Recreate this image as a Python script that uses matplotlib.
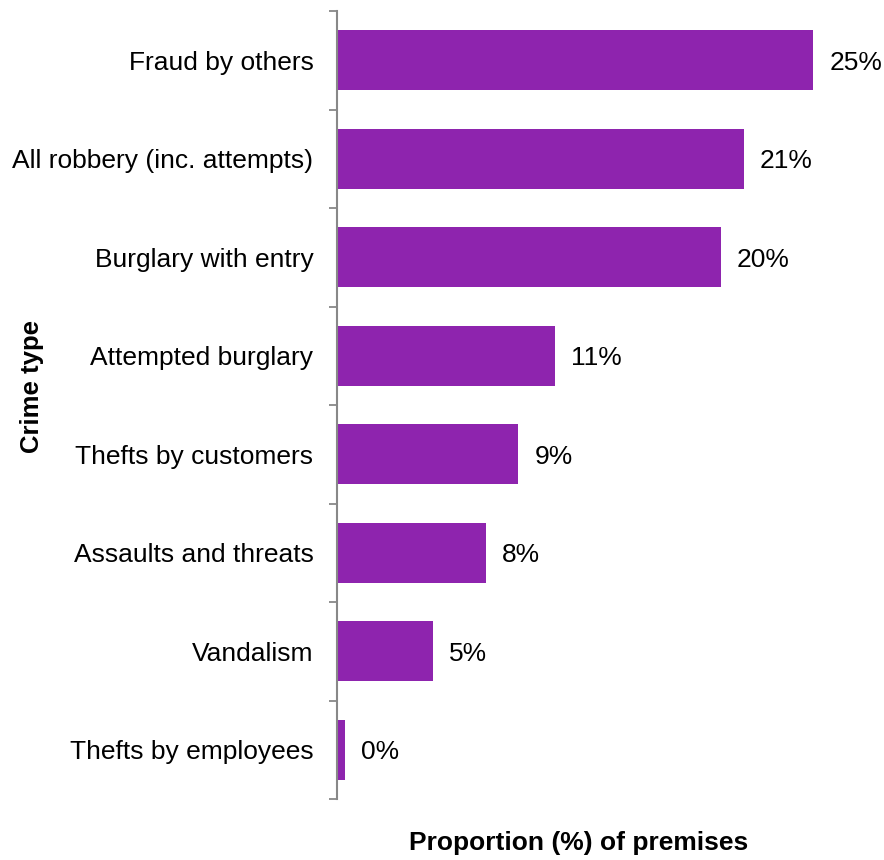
import numpy as np
import matplotlib
matplotlib.use("Agg")
import matplotlib.pyplot as plt

plt.rcParams['font.family'] = ['Liberation Sans', 'DejaVu Sans']

# Crime types and share of premises affected (%)
crime_types = [
    "Fraud by others",
    "All robbery (inc. attempts)",
    "Burglary with entry",
    "Attempted burglary",
    "Thefts by customers",
    "Assaults and threats",
    "Vandalism",
    "Thefts by employees",
]
proportions = [24.7, 21.1, 19.9, 11.3, 9.4, 7.7, 5.0, 0.4]

bar_color = "#8E24AE"

fig = plt.figure(figsize=(8.84, 8.60), dpi=100)
ax = fig.add_axes([337 / 884, 1 - 799 / 860, 540 / 884, 788 / 860])

y = np.arange(len(crime_types))
ax.barh(y, proportions, height=0.61, color=bar_color)

for yi, v in zip(y, proportions):
    ax.text(v + 0.83, yi, f"{v:.0f}%", va="center_baseline", ha="left", fontsize=19)

ax.set_xlim(0, 28)
ax.set_ylim(len(crime_types) - 0.5, -0.5)

ax.set_yticks(y)
ax.set_yticklabels(crime_types, fontsize=19)
ax.set_yticks(np.arange(-0.5, len(crime_types)), minor=True)
ax.tick_params(axis="y", which="major", length=0, pad=17)
ax.tick_params(axis="y", which="minor", length=5.5, width=1.3, color="#888888")
ax.set_xticks([])

for side in ["top", "right", "bottom"]:
    ax.spines[side].set_visible(False)
ax.spines["left"].set_color("#888888")
ax.spines["left"].set_linewidth(1.5)

fig.text(579 / 884, 1 - 843 / 860, "Proportion (%) of premises",
         ha="center", va="center", fontsize=19, fontweight="bold")
fig.text(32 / 884, 1 - 386 / 860, "Crime type", rotation=90,
         ha="center", va="center", fontsize=18.5, fontweight="bold")

fig.savefig("out.png", dpi=100)
